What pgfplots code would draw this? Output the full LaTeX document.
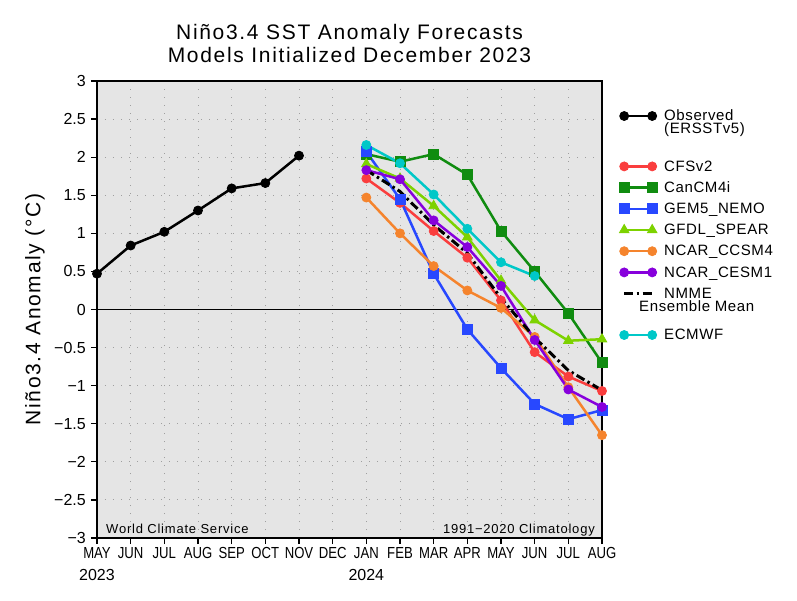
\documentclass[border=0pt]{standalone}
\usepackage{fontspec}
\setmainfont{Liberation Sans}
\newfontfamily\ttlfont{Liberation Sans}[LetterSpace=8]
\newfontfamily\legfont{Liberation Sans}[LetterSpace=4]
\newfontfamily\xtkfont{Liberation Sans}[FakeStretch=0.82]
\newfontfamily\wcsfont{Liberation Sans}[LetterSpace=6]
\usepackage{pgfplots}
\pgfplotsset{compat=1.18}
\definecolor{cfs}{RGB}{250,62,62}
\definecolor{can}{RGB}{16,140,16}
\definecolor{gem}{RGB}{40,72,255}
\definecolor{gfdl}{RGB}{125,210,0}
\definecolor{ccsm}{RGB}{245,132,45}
\definecolor{cesm}{RGB}{135,0,220}
\definecolor{ecm}{RGB}{0,200,200}
\newcommand\lgE[2]{\vrule height #1 width 0pt\hspace*{7pt}\raisebox{\dimexpr #1/2-5.35pt\relax}[0pt][0pt]{#2}}
\newcommand\m[1]{{\xtkfont #1}}
\begin{document}
\begin{tikzpicture}
\path[use as bounding box] (-97pt,-62pt) rectangle (700pt,538pt);
\begin{axis}[
  at={(0pt,0pt)}, anchor=south west,
  width=505pt, height=457pt, scale only axis,
  xmin=0, xmax=15, ymin=-3, ymax=3,
  axis background/.style={fill=black!10},
  axis line style={line width=1.3pt},
  xtick={0,1,2,3,4,5,6,7,8,9,10,11,12,13,14,15},
  xticklabels={{\m{MAY}\\2023},\m{JUN},\m{JUL},\m{AUG},\m{SEP},\m{OCT},\m{NOV},\m{DEC},{\m{JAN}\\2024},\m{FEB},\m{MAR},\m{APR},\m{MAY},\m{JUN},\m{JUL},\m{AUG}},
  ytick={-3,-2.5,-2,-1.5,-1,-0.5,0,0.5,1,1.5,2,2.5,3},
  yticklabels={−3,−2.5,−2,−1.5,−1,−0.5,0,0.5,1,1.5,2,2.5,3},
  tick align=outside, tick pos=left,
  major tick length=6pt,
  tick style={black, line width=1.2pt},
  xticklabel style={align=center, anchor=north, inner sep=0pt, yshift=-3pt, font=\fontsize{16}{22}\selectfont},
  yticklabel style={anchor=east, inner sep=0pt, xshift=-5pt, font=\fontsize{16}{19}\selectfont},
  grid=major,
  major grid style={gray!75, line width=1pt, dash pattern=on 1.2pt off 6.8pt},
  legend cell align=left,
  legend style={at={(axis description cs:1,1)}, anchor=north west, xshift=17pt, yshift=5pt,
    draw=none, fill=none, inner sep=0pt, row sep=0pt, nodes={inner sep=0pt},
    font=\legfont\fontsize{15}{17}\selectfont},
  legend image code/.code={\draw plot coordinates {(0pt,0pt)(28pt,0pt)};},
  every axis plot/.append style={line width=2.5pt, mark size=4.5pt, mark options={solid, line width=0.8pt}},
]
\addplot[black, line width=1.3pt, forget plot] coordinates {(0,0)(15,0)};
\addplot[black, mark=*] coordinates {(0,0.47)(1,0.84)(2,1.02)(3,1.30)(4,1.59)(5,1.66)(6,2.02)};
\addlegendentry{\lgE{78.1pt}{\rlap{\raisebox{-13pt}{(ERSSTv5)}}Observed}}
\addplot[cfs, mark=*] coordinates {(8,1.72)(9,1.40)(10,1.03)(11,0.68)(12,0.12)(13,-0.56)(14,-0.88)(15,-1.07)};
\addlegendentry{\lgE{19.7pt}{CFSv2}}
\addplot[can, mark=square*, mark size=5pt] coordinates {(8,2.04)(9,1.94)(10,2.04)(11,1.77)(12,1.03)(13,0.50)(14,-0.05)(15,-0.70)};
\addlegendentry{\lgE{19.7pt}{CanCM4i}}
\addplot[gem, mark=square*, mark size=5pt] coordinates {(8,2.07)(9,1.45)(10,0.47)(11,-0.26)(12,-0.77)(13,-1.24)(14,-1.44)(15,-1.32)};
\addlegendentry{\lgE{19.7pt}{GEM5\_NEMO}}
\addplot[gfdl, mark=triangle*, mark size=5.5pt] coordinates {(8,1.91)(9,1.72)(10,1.36)(11,0.95)(12,0.38)(13,-0.14)(14,-0.41)(15,-0.39)};
\addlegendentry{\lgE{19.7pt}{GFDL\_SPEAR}}
\addplot[ccsm, mark=*] coordinates {(8,1.47)(9,1.00)(10,0.57)(11,0.25)(12,0.02)(13,-0.36)(14,-1.02)(15,-1.65)};
\addlegendentry{\lgE{19.7pt}{NCAR\_CCSM4}}
\addplot[cesm, mark=*] coordinates {(8,1.83)(9,1.71)(10,1.17)(11,0.82)(12,0.31)(13,-0.40)(14,-1.05)(15,-1.28)};
\addlegendentry{\lgE{19.7pt}{NCAR\_CESM1}}
\addplot[black, line width=3pt, dash pattern=on 9pt off 3.5pt on 2.5pt off 3.5pt] coordinates {(8,1.83)(9,1.55)(10,1.11)(11,0.74)(12,0.15)(13,-0.37)(14,-0.80)(15,-1.06)};
\addlegendentry{\lgE{19.7pt}{\rlap{\hspace*{-25pt}\raisebox{-13.6pt}{Ensemble Mean}}NMME}}
\addplot[ecm, mark=*] coordinates {(8,2.16)(9,1.92)(10,1.51)(11,1.06)(12,0.62)(13,0.44)};
\addlegendentry{\lgE{60.1pt}{ECMWF}}
\end{axis}
\node[anchor=base west, font=\wcsfont\fontsize{13}{15}\selectfont, inner sep=0pt] at (9pt,5pt) {World Climate Service};
\node[anchor=base east, font=\wcsfont\fontsize{13}{15}\selectfont, inner sep=0pt] at (498pt,5pt) {1991−2020 Climatology};
\node[anchor=base, font=\ttlfont\fontsize{21}{24}\selectfont, inner sep=0pt] at (252.5pt,498pt) {Niño3.4 SST Anomaly Forecasts};
\node[anchor=base, font=\ttlfont\fontsize{21}{24}\selectfont, inner sep=0pt] at (252.5pt,475.7pt) {Models Initialized December 2023};
\node[rotate=90, font=\ttlfont\fontsize{21}{24}\selectfont, inner sep=0pt] at (-62pt,228.5pt) {Niño3.4 Anomaly (°C)};
\end{tikzpicture}
\end{document}
